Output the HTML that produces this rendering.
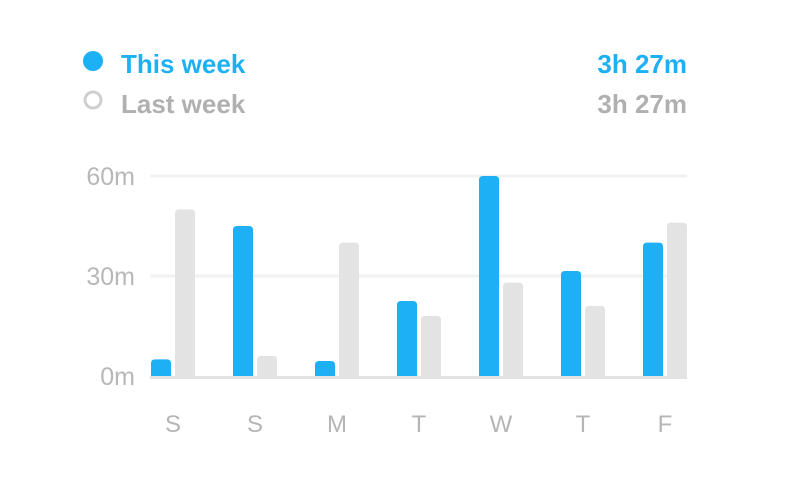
<!DOCTYPE html>
<html><head><meta charset="utf-8">
<style>
html,body{margin:0;padding:0;background:#fff;}
body{width:796px;height:486px;overflow:hidden;font-family:"Liberation Sans",sans-serif;}
</style></head>
<body>
<svg id="chart" width="796" height="486" xmlns="http://www.w3.org/2000/svg">
  <g>
    <circle cx="93" cy="61" r="10" fill="#1eb0f5"/>
    <text x="121" y="73" font-size="26" font-weight="bold" fill="#1eb0f5">This week</text>
    <text x="687" y="73" text-anchor="end" font-size="26" font-weight="bold" fill="#1eb0f5">3h 27m</text>
    <circle cx="93" cy="100" r="8" fill="#fff" stroke="#cfcfcf" stroke-width="3"/>
    <text x="121" y="113" font-size="26" font-weight="bold" fill="#b0b0b0">Last week</text>
    <text x="687" y="113" text-anchor="end" font-size="26" font-weight="bold" fill="#b0b0b0">3h 27m</text>
  </g>
  <g id="grid"></g>
  <g id="bars"></g>
  <g id="labels"></g>
</svg>
<script>
const categories = ["S","S","M","T","W","T","F"];
const thisWeek = [5, 45, 4.5, 22.5, 60, 31.5, 40];
const lastWeek = [50, 6, 40, 18, 28, 21, 46];
const yTicks = [0, 30, 60];
const yTickLabels = ["0m","30m","60m"];

const NS = "http://www.w3.org/2000/svg";
const y0 = 376, yTop = 176, yMax = 60;
const left = 151, step = 82, barW = 20, gap = 4;
function yScale(v){ return y0 - (v / yMax) * (y0 - yTop); }
function xScale(i){ return left + i * step; }
function mk(tag, attrs, parent){
  const e = document.createElementNS(NS, tag);
  for (const k in attrs) e.setAttribute(k, attrs[k]);
  parent.appendChild(e);
  return e;
}
function barPath(x, y, w, h, r){
  r = Math.min(r, h, w/2);
  return `M${x},${y+h} L${x},${y+r} Q${x},${y} ${x+r},${y} L${x+w-r},${y} Q${x+w},${y} ${x+w},${y+r} L${x+w},${y+h} Z`;
}
const grid = document.getElementById("grid");
const bars = document.getElementById("bars");
const labels = document.getElementById("labels");

yTicks.forEach((t, i) => {
  const y = yScale(t);
  if (t !== 0) {
    const g = mk("line", {x1: 150, x2: 687, y1: y, y2: y, stroke: "#f2f2f2", "stroke-width": 3}, grid);
    
    
  }
  const tx = mk("text", {x: 135, y: y + 9, "text-anchor": "end", "font-size": 25, fill: "#b8b8b8"}, labels);
  tx.textContent = yTickLabels[i];
  
  
});

categories.forEach((c, i) => {
  const x = xScale(i);
  const yb = yScale(thisWeek[i]);
  const b1 = mk("path", {d: barPath(x, yb, barW, y0 - yb, 4), fill: "#1eb0f5"}, bars);
  
  
  const yg = yScale(lastWeek[i]);
  const b2 = mk("path", {d: barPath(x + barW + gap, yg, barW, y0 - yg, 4), fill: "#e3e3e3"}, bars);
  
  
  const t = mk("text", {x: x + barW + gap/2, y: 432, "text-anchor": "middle", "font-size": 24, fill: "#b5b5b5"}, labels);
  t.textContent = c;
  
  
});

const base = mk("line", {x1: 150, x2: 687, y1: y0 + 1.5, y2: y0 + 1.5, stroke: "#e3e3e3", "stroke-width": 3}, grid.parentNode);


</script>
</body></html>
